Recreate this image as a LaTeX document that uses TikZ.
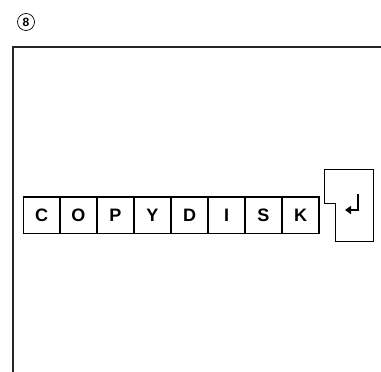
\documentclass[tikz,border=0pt]{standalone}
\usepackage{fontspec}
\setmainfont{Liberation Sans}
\usepackage{tikz}
\usetikzlibrary{positioning,arrows.meta}

\begin{document}
\begin{tikzpicture}[x=1pt,y=-1pt,
  keycap/.style={draw,line width=0.6pt,minimum width=36.4pt,minimum height=36pt,inner sep=0pt,font=\fontsize{18}{18}\selectfont\bfseries},
  frameline/.style={line width=1.1pt,black!85},
  enterkey/.style={line width=1pt},
]
\useasboundingbox (0,0) rectangle (381,372);
% step number
\node[draw,circle,line width=0.7pt,minimum size=17pt,inner sep=0pt,font=\fontsize{12}{12}\selectfont\bfseries] (num) at (26,22) {8};
% screen frame
\draw[frameline] (13,372) -- (13,47) -- (381,47);
% key row
\node[keycap,anchor=west] (kc) at (23,215) {C};
\node[keycap,right=0pt of kc] (ko) {O};
\node[keycap,right=0pt of ko] (kp) {P};
\node[keycap,right=0pt of kp] (ky) {Y};
\node[keycap,right=0pt of ky] (kd) {D};
\node[keycap,right=0pt of kd] (ki) {I};
\node[keycap,right=0pt of ki] (ks) {S};
\node[keycap,right=0pt of ks] (kk) {K};
\draw[line width=1pt] (kc.north west) rectangle (kk.south east);
% return key
\draw[enterkey] (324,169) -- (373,169) -- (373,241) -- (335,241) -- (335,203) -- (324,203) -- cycle;
\coordinate (rtop) at (358,194);
\coordinate (rend) at (345,210);
\draw[line width=2pt,-{Triangle[length=6pt,width=8pt]}] (rtop) |- (rend);
\end{tikzpicture}
\end{document}
